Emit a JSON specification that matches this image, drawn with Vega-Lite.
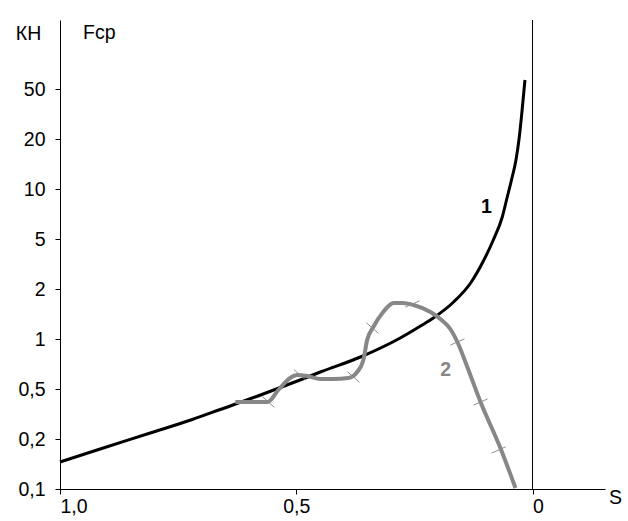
{
  "$schema": "https://vega.github.io/schema/vega-lite/v6.json",
  "width": 545,
  "height": 469,
  "autosize": "none",
  "padding": {"left": 60, "top": 20, "right": 23, "bottom": 32},
  "background": "white",
  "config": {
    "view": {"stroke": null},
    "font": "Liberation Sans",
    "axis": {
      "grid": false,
      "domainColor": "black",
      "tickColor": "black",
      "labelColor": "black",
      "titleColor": "black",
      "labelFont": "Liberation Sans",
      "titleFont": "Liberation Sans",
      "labelFontSize": 19.5,
      "titleFontSize": 19.5,
      "titleFontWeight": "normal",
      "tickSize": 5,
      "domainWidth": 1,
      "tickWidth": 1
    }
  },
  "datasets": {
    "curve1": [
      {"S": 1.0, "kh": 0.54}, {"S": 0.915, "kh": 0.80}, {"S": 0.809, "kh": 1.12},
      {"S": 0.720, "kh": 1.39}, {"S": 0.661, "kh": 1.59}, {"S": 0.570, "kh": 1.90},
      {"S": 0.492, "kh": 2.18}, {"S": 0.449, "kh": 2.34}, {"S": 0.364, "kh": 2.64},
      {"S": 0.280, "kh": 3.02}, {"S": 0.237, "kh": 3.26}, {"S": 0.210, "kh": 3.42},
      {"S": 0.167, "kh": 3.74}, {"S": 0.131, "kh": 4.12}, {"S": 0.104, "kh": 4.56},
      {"S": 0.083, "kh": 4.98}, {"S": 0.064, "kh": 5.44}, {"S": 0.054, "kh": 5.82},
      {"S": 0.044, "kh": 6.20}, {"S": 0.035, "kh": 6.58}, {"S": 0.028, "kh": 7.04},
      {"S": 0.022, "kh": 7.58}, {"S": 0.016, "kh": 8.18}
    ],
    "curve2": [
      {"S": 0.629, "kh": 1.74}, {"S": 0.604, "kh": 1.74}, {"S": 0.561, "kh": 1.74},
      {"S": 0.538, "kh": 1.98}, {"S": 0.513, "kh": 2.22}, {"S": 0.498, "kh": 2.28},
      {"S": 0.477, "kh": 2.26}, {"S": 0.449, "kh": 2.20}, {"S": 0.422, "kh": 2.20},
      {"S": 0.390, "kh": 2.22}, {"S": 0.371, "kh": 2.34}, {"S": 0.358, "kh": 2.58},
      {"S": 0.350, "kh": 2.98}, {"S": 0.337, "kh": 3.24}, {"S": 0.316, "kh": 3.54},
      {"S": 0.294, "kh": 3.72}, {"S": 0.275, "kh": 3.72}, {"S": 0.252, "kh": 3.68},
      {"S": 0.216, "kh": 3.54}, {"S": 0.195, "kh": 3.40}, {"S": 0.174, "kh": 3.20},
      {"S": 0.159, "kh": 2.94}, {"S": 0.138, "kh": 2.44}, {"S": 0.110, "kh": 1.74},
      {"S": 0.068, "kh": 0.82}, {"S": 0.036, "kh": 0.02}
    ],
    "marks2": [
      {"S": 0.559, "kh": 1.74}, {"S": 0.492, "kh": 2.28}, {"S": 0.379, "kh": 2.24},
      {"S": 0.339, "kh": 3.22}, {"S": 0.254, "kh": 3.70}, {"S": 0.159, "kh": 2.94},
      {"S": 0.110, "kh": 1.74}, {"S": 0.072, "kh": 0.78}
    ]
  },
  "layer": [
    {
      "data": {"values": [{"S": 0}]},
      "mark": {"type": "rule", "color": "black", "strokeWidth": 1},
      "encoding": {
        "x": {"field": "S", "type": "quantitative"}
      }
    },
    {
      "data": {"name": "curve1"},
      "mark": {"type": "line", "color": "black", "strokeWidth": 3, "interpolate": "monotone"},
      "encoding": {
        "x": {
          "field": "S",
          "type": "quantitative",
          "scale": {"domain": [-0.1534, 1], "reverse": true, "nice": false, "zero": false},
          "axis": {
            "values": [1, 0.5, 0],
            "labelExpr": "datum.value == 1 ? '\u00a01,0' : (datum.value == 0.5 ? '0,5' : '\u00a0\u00a00')",
            "labelAlign": {"condition": {"test": "datum.value == 0.5", "value": "center"}, "value": "left"},
            "labelFlush": false,
            "labelOverlap": false,
            "labelPadding": 3,
            "title": "S",
            "titleX": 555,
            "titleY": 8,
            "titleAlign": "center",
            "titleBaseline": "middle"
          }
        },
        "y": {
          "field": "kh",
          "type": "quantitative",
          "scale": {"domain": [0, 9.38], "nice": false, "zero": false},
          "axis": {
            "values": [0, 1, 2, 3, 4, 5, 6, 7, 8],
            "labelExpr": "['0,1','0,2','0,5','1','2','5','10','20','50'][round(datum.value)]",
            "labelPadding": 10,
            "labelOverlap": false,
            "title": "КН",
            "titleAngle": 0,
            "titleX": -32,
            "titleY": 13,
            "titleAlign": "center",
            "titleBaseline": "middle"
          }
        },
        "order": {"field": "S", "sort": "descending"}
      }
    },
    {
      "data": {"name": "curve2"},
      "mark": {"type": "line", "color": "#878787", "strokeWidth": 4, "interpolate": "monotone"},
      "encoding": {
        "x": {"field": "S", "type": "quantitative"},
        "y": {"field": "kh", "type": "quantitative"},
        "order": {"field": "S", "sort": "descending"}
      }
    },
    {
      "data": {"name": "marks2"},
      "mark": {"type": "point", "filled": false, "color": "#8c8c8c", "strokeWidth": 1, "size": 200, "opacity": 1},
      "encoding": {
        "x": {"field": "S", "type": "quantitative"},
        "y": {"field": "kh", "type": "quantitative"},
        "shape": {
          "condition": {"test": "datum.S > 0.3", "value": "M-0.85,-0.75L0.85,0.75"},
          "value": "M-1,0.44L1,-0.44"
        }
      }
    },
    {
      "data": {"values": [{"S": 0.0975, "kh": 5.64, "t": "1"}]},
      "mark": {"type": "text", "font": "Liberation Sans", "fontSize": 19.5, "fontWeight": "bold", "color": "black", "baseline": "middle", "align": "center"},
      "encoding": {
        "x": {"field": "S", "type": "quantitative"},
        "y": {"field": "kh", "type": "quantitative"},
        "text": {"field": "t"}
      }
    },
    {
      "data": {"values": [{"S": 0.184, "kh": 2.38, "t": "2"}]},
      "mark": {"type": "text", "font": "Liberation Sans", "fontSize": 19.5, "fontWeight": "bold", "color": "#878787", "baseline": "middle", "align": "center"},
      "encoding": {
        "x": {"field": "S", "type": "quantitative"},
        "y": {"field": "kh", "type": "quantitative"},
        "text": {"field": "t"}
      }
    },
    {
      "data": {"values": [{"S": 0.917, "kh": 9.12, "t": "Fср"}]},
      "mark": {"type": "text", "font": "Liberation Sans", "fontSize": 19.5, "color": "black", "baseline": "middle", "align": "center"},
      "encoding": {
        "x": {"field": "S", "type": "quantitative"},
        "y": {"field": "kh", "type": "quantitative"},
        "text": {"field": "t"}
      }
    }
  ]
}
